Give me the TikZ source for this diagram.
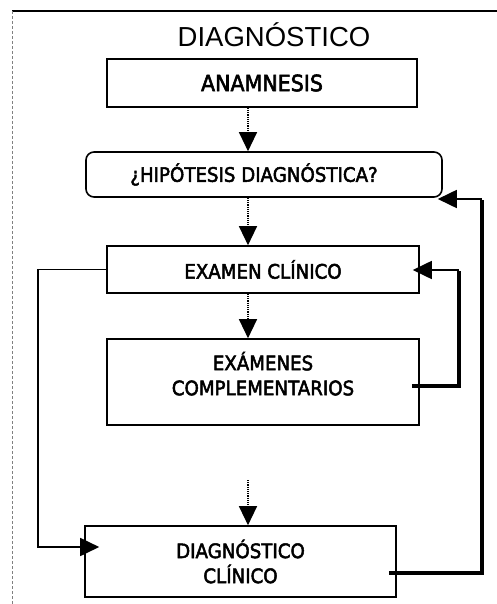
\documentclass[tikz,border=0pt]{standalone}
\usepackage{fontspec}
\setmainfont{DejaVu Sans}
\newfontfamily\boxfont[FakeBold=2.5,FakeStretch=0.915]{DejaVu Sans}
\newfontfamily\titlefont{Liberation Sans}
\usetikzlibrary{arrows.meta}
\begin{document}
\begin{tikzpicture}[x=1pt,y=-1pt,
  stepbox/.style={draw, line width=1.6pt, inner sep=0pt, align=center,
    font=\boxfont\fontsize{19.9}{25}\selectfont},
  headarrow/.style={-{Triangle[length=19pt,width=18pt]}},
  flow/.style={densely dotted, line width=1.2pt, headarrow},
  thinlink/.style={line width=1.8pt, line join=miter},
  thicklink/.style={line width=4.5pt, line join=miter},
]
\useasboundingbox (0,0) rectangle (497,604);

% page frame
\draw[line width=1.4pt] (12,11) -- (497,11);
\draw[gray, densely dashed, line width=1pt] (12,11) -- (12,604);

% title
\node[anchor=base, font=\titlefont\fontsize{27.5}{30}\selectfont] (title) at (274,47) {DIAGNÓSTICO};

% boxes
\node[stepbox, minimum width=310pt, minimum height=48pt,
      font=\boxfont\fontsize{22.5}{25}\selectfont] (anam) at (262,83) {ANAMNESIS};
\node[stepbox, rounded corners=8pt, minimum width=356pt, minimum height=45pt] (hip) at (264,174.5)
  {\hspace*{-20pt}¿HIPÓTESIS DIAGNÓSTICA?};
\node[stepbox, minimum width=312pt, minimum height=47pt] (exam) at (263,269.5) {EXAMEN CLÍNICO};
\node[stepbox, minimum width=312pt, minimum height=86pt] (comp) at (263,382)
  {EXÁMENES\\COMPLEMENTARIOS\\[-8pt]};
\node[stepbox, minimum width=311pt, minimum height=71pt] (diag) at (240.5,561.5)
  {DIAGNÓSTICO\\CLÍNICO};

% helper coordinates
\coordinate (ax) at (248,0);
\coordinate (src) at (248,480);
\coordinate (l1) at (38,547);
\coordinate (r1) at (459,270);
\coordinate (r2) at (482,199);

% main downward flow
\draw[flow] (anam.south -| ax) -- (hip.north -| ax);
\draw[flow] (hip.south -| ax) -- (exam.north -| ax);
\draw[flow] (exam.south -| ax) -- (comp.north -| ax);
\draw[flow] (src) -- (diag.north -| ax);

% left bypass to the diagnosis
\draw[thinlink, headarrow] (exam.west) -| (l1) -- ([xshift=15pt]diag.west |- l1);

% feedback from complementary exams to clinical exam
\draw[thicklink] ([xshift=-8pt,yshift=-4pt]comp.east) -| ([yshift=-1pt]r1);
\draw[thinlink, headarrow] (r1) -- ([xshift=-7pt]exam.east |- r1);

% feedback from diagnosis to hypothesis
\draw[thicklink] ([xshift=-8pt,yshift=-11.5pt]diag.east) -| ([yshift=-1pt]r2);
\draw[thinlink, headarrow] (r2) -- ([xshift=-5pt]hip.south east |- r2);
\end{tikzpicture}
\end{document}
